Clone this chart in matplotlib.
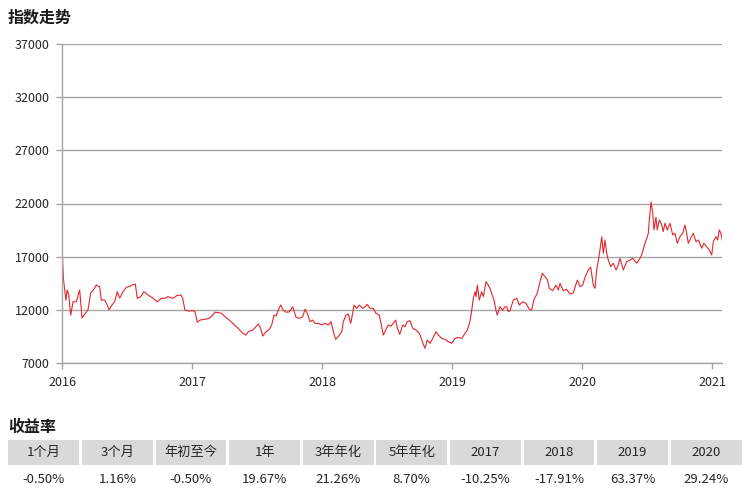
import matplotlib
matplotlib.use("Agg")
import matplotlib.pyplot as plt
from matplotlib.patches import Rectangle

plt.rcParams["font.family"] = ["Noto Sans CJK SC", "DejaVu Sans"]

# index level, time as decimal year
years = [
    2016.000, 2016.006, 2016.012, 2016.030, 2016.040, 2016.052, 2016.067, 2016.085,
    2016.110, 2016.136, 2016.154, 2016.169, 2016.200, 2016.221, 2016.246, 2016.264,
    2016.290, 2016.302, 2016.328, 2016.348, 2016.362, 2016.379, 2016.405, 2016.425,
    2016.444, 2016.469, 2016.495, 2016.521, 2016.538, 2016.564, 2016.579, 2016.605,
    2016.631, 2016.662, 2016.700, 2016.733, 2016.764, 2016.790, 2016.815, 2016.854,
    2016.882, 2016.915, 2016.928, 2016.946, 2016.972, 2017.010, 2017.023, 2017.041,
    2017.062, 2017.100, 2017.133, 2017.152, 2017.177, 2017.202, 2017.228, 2017.254,
    2017.287, 2017.318, 2017.356, 2017.390, 2017.415, 2017.433, 2017.467, 2017.492,
    2017.510, 2017.528, 2017.544, 2017.569, 2017.595, 2017.613, 2017.631, 2017.646,
    2017.664, 2017.682, 2017.702, 2017.723, 2017.748, 2017.775, 2017.800, 2017.825,
    2017.852, 2017.869, 2017.887, 2017.908, 2017.928, 2017.946, 2017.972, 2017.998,
    2018.023, 2018.048, 2018.069, 2018.087, 2018.105, 2018.125, 2018.152, 2018.164,
    2018.185, 2018.202, 2018.221, 2018.236, 2018.246, 2018.267, 2018.287, 2018.313,
    2018.331, 2018.348, 2018.369, 2018.395, 2018.415, 2018.441, 2018.459, 2018.472,
    2018.492, 2018.510, 2018.531, 2018.548, 2018.567, 2018.579, 2018.598, 2018.621,
    2018.638, 2018.656, 2018.677, 2018.698, 2018.723, 2018.749, 2018.772, 2018.792,
    2018.810, 2018.831, 2018.852, 2018.877, 2018.895, 2018.921, 2018.946, 2018.972,
    2018.998, 2019.023, 2019.048, 2019.075, 2019.092, 2019.118, 2019.138, 2019.152,
    2019.164, 2019.177, 2019.185, 2019.195, 2019.210, 2019.228, 2019.241, 2019.262,
    2019.279, 2019.292, 2019.305, 2019.323, 2019.338, 2019.348, 2019.369, 2019.390,
    2019.408, 2019.421, 2019.433, 2019.446, 2019.472, 2019.498, 2019.518, 2019.544,
    2019.569, 2019.595, 2019.613, 2019.631, 2019.656, 2019.677, 2019.695, 2019.715,
    2019.733, 2019.748, 2019.775, 2019.800, 2019.818, 2019.831, 2019.856, 2019.882,
    2019.908, 2019.933, 2019.964, 2019.985, 2020.005, 2020.025, 2020.048, 2020.067,
    2020.087, 2020.100, 2020.113, 2020.125, 2020.138, 2020.152, 2020.164, 2020.177,
    2020.190, 2020.202, 2020.221, 2020.241, 2020.262, 2020.279, 2020.292, 2020.318,
    2020.344, 2020.369, 2020.390, 2020.421, 2020.446, 2020.459, 2020.477, 2020.498,
    2020.510, 2020.518, 2020.531, 2020.544, 2020.554, 2020.569, 2020.579, 2020.595,
    2020.613, 2020.625, 2020.638, 2020.656, 2020.677, 2020.698, 2020.715, 2020.733,
    2020.754, 2020.775, 2020.792, 2020.805, 2020.818, 2020.836, 2020.856, 2020.877,
    2020.895, 2020.921, 2020.938, 2020.959, 2020.979, 2020.998, 2021.010, 2021.031,
    2021.044, 2021.056, 2021.069, 2021.082,
]
index_values = [
    18300, 16200, 14800, 12900, 13870, 13400, 11500, 12760,
    12760, 13870, 11230, 11500, 12000, 13600, 13950, 14330,
    14170, 12920, 12920, 12450, 12000, 12360, 12760, 13700,
    13110, 13700, 14120, 14200, 14330, 14430, 13080, 13230,
    13700, 13400, 13080, 12760, 13080, 13080, 13240, 13080,
    13330, 13400, 13090, 11980, 11890, 11920, 11830, 10830,
    11040, 11110, 11200, 11420, 11770, 11740, 11670, 11350,
    11040, 10670, 10260, 9790, 9630, 9940, 10100, 10410,
    10670, 10260, 9540, 9940, 10160, 10570, 11510, 11410,
    11980, 12450, 11980, 11780, 11800, 12290, 11300, 11200,
    11350, 12050, 11670, 10890, 11040, 10730, 10730, 10570,
    10730, 10570, 10890, 9940, 9230, 9480, 9940, 10890,
    11510, 11600, 10730, 11670, 12450, 12140, 12450, 12140,
    12290, 12520, 12140, 12140, 11670, 11510, 10410, 9630,
    10160, 10570, 10470, 10730, 11040, 10300, 9700, 10570,
    10410, 10890, 10980, 10260, 10100, 9790, 9000, 8380,
    9160, 8850, 9320, 9940, 9630, 9320, 9230, 9000,
    8850, 9320, 9400, 9320, 9630, 10100, 10890, 11980,
    13080, 13700, 13240, 14330, 12920, 13700, 13240, 14650,
    14330, 14020, 13550, 12920, 11980, 11510, 12290, 11980,
    12290, 12290, 11830, 11920, 12920, 13080, 12450, 12760,
    12610, 12050, 11980, 12990, 13550, 14650, 15430, 15120,
    14870, 14020, 13810, 14330, 13860, 14490, 13810, 13920,
    13490, 13600, 14800, 14180, 14330, 15120, 15750, 16020,
    14330, 14020, 15750, 16590, 17630, 18880, 17320, 18570,
    17320, 16690, 16060, 16380, 15750, 16220, 16840, 15750,
    16530, 16690, 16840, 16380, 16840, 17160, 17940, 18730,
    19200, 20450, 22150, 21140, 19510, 20700, 19510, 20450,
    20000, 19360, 20140, 19510, 20140, 19040, 19200, 18260,
    18880, 19200, 19980, 19200, 18260, 18730, 19200, 18410,
    18570, 17790, 18260, 17940, 17630, 17160, 18410, 18880,
    18570, 19510, 19200, 18410,
]

year_ticks = [2016, 2017, 2018, 2019, 2020, 2021]
value_ticks = [7000, 12000, 17000, 22000, 27000, 32000, 37000]

table_headers = ["1个月", "3个月", "年初至今", "1年", "3年年化", "5年年化",
                 "2017", "2018", "2019", "2020"]
table_returns = ["-0.50%", "1.16%", "-0.50%", "19.67%", "21.26%", "8.70%",
                 "-10.25%", "-17.91%", "63.37%", "29.24%"]

GRID = "#a6a6a6"
TEXT = "#262626"

fig = plt.figure(figsize=(7.5, 5.01), dpi=100)
ax = fig.add_axes([62 / 750, 1 - 363 / 501, 660 / 750, 319 / 501])

ax.plot(years, index_values, color="#e3262b", linewidth=0.8)

ax.set_xlim(2016, 2021.077)
ax.set_ylim(7000, 37000)
ax.set_xticks(year_ticks)
ax.set_xticklabels([str(y) for y in year_ticks])
ax.set_yticks(value_ticks)
ax.set_yticklabels([str(v) for v in value_ticks])
ax.grid(axis="y", color=GRID, linewidth=1.0)
ax.set_axisbelow(True)
for side in ("top", "right"):
    ax.spines[side].set_visible(False)
for side in ("left", "bottom"):
    ax.spines[side].set_color(GRID)
    ax.spines[side].set_linewidth(1.0)
ax.tick_params(axis="both", colors=GRID, labelcolor=TEXT, labelsize=9,
               length=4, width=1.0, pad=5)

fig.text(8 / 750, 1 - 18 / 501, "指数走势", fontsize=11.5, fontweight="bold",
         color="#1a1a1a", va="center", ha="left")
fig.text(8 / 750, 1 - 427 / 501, "收益率", fontsize=11.5, fontweight="bold",
         color="#1a1a1a", va="center", ha="left")

# returns table
tax = fig.add_axes([7 / 750, 1 - 491 / 501, 736 / 750, 51 / 501])
tax.set_xlim(0, len(table_headers))
tax.set_ylim(0, 2)
tax.axis("off")
gap = 0.018
for i, (head, ret) in enumerate(zip(table_headers, table_returns)):
    tax.add_patch(Rectangle((i + gap, 1.02), 1 - 2 * gap, 0.98,
                            facecolor="#d9d9d9", edgecolor="none"))
    tax.text(i + 0.5, 1.5, head, ha="center", va="center", fontsize=9.5, color=TEXT)
    tax.text(i + 0.5, 0.45, ret, ha="center", va="center", fontsize=9.5, color=TEXT)

fig.savefig("out.png", dpi=100)
